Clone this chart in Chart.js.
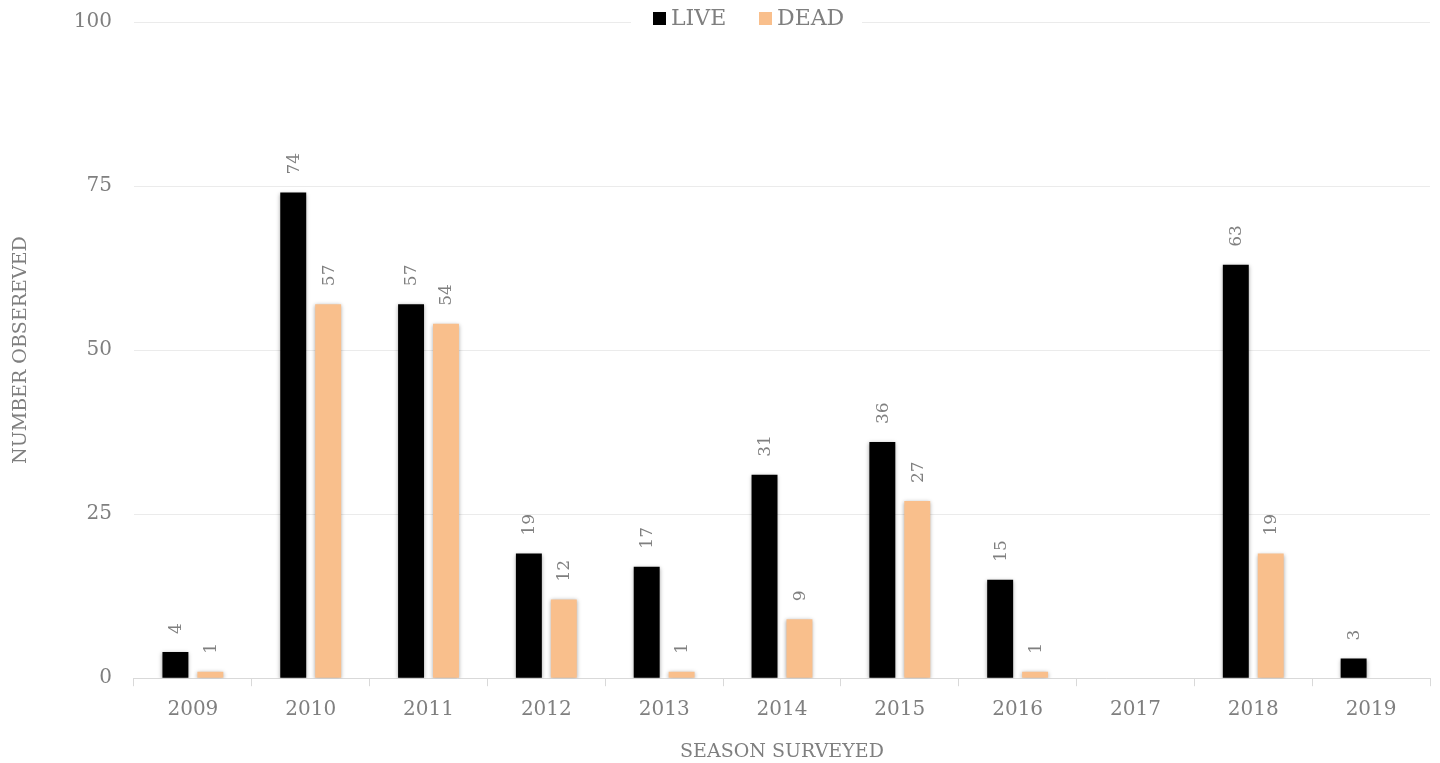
<!DOCTYPE html>
<html>
<head>
<meta charset="utf-8">
<script src="https://cdn.jsdelivr.net/npm/chart.js@4/dist/chart.umd.min.js"></script>
<style>
  html, body { margin: 0; padding: 0; background: #fff; }
  #wrap { width: 1440px; height: 763px; }
</style>
</head>
<body>
<div id="wrap"><canvas id="seasonChart"></canvas></div>
<script>
var seasons = ['2009', '2010', '2011', '2012', '2013', '2014', '2015', '2016', '2017', '2018', '2019'];
var liveCounts = [4, 74, 57, 19, 17, 31, 36, 15, null, 63, 3];
var deadCounts = [1, 57, 54, 12, 1, 9, 27, 1, null, 19, null];
var yTicks = [0, 25, 50, 75, 100];

var FONT = "'DejaVu Serif', 'Liberation Serif', serif";
var GREY = '#7f7f7f';
Chart.defaults.font.family = FONT;
Chart.defaults.color = GREY;

// bar shadow + rotated value labels + legend across the top gridline
var barExtras = {
    id: 'barExtras',
    beforeDatasetsDraw: function (chart) {
        var c = chart.ctx;
        c.save();
        c.shadowColor = 'rgba(0,0,0,0.35)';
        c.shadowBlur = 4;
        c.shadowOffsetY = 1;
    },
    afterDatasetsDraw: function (chart) {
        var c = chart.ctx;
        c.restore();
        c.save();
        c.font = '17px ' + FONT;
        c.fillStyle = GREY;
        c.textAlign = 'left';
        c.textBaseline = 'middle';
        chart.data.datasets.forEach(function (ds, i) {
            chart.getDatasetMeta(i).data.forEach(function (bar, j) {
                var v = ds.data[j];
                if (v == null) return;
                c.save();
                c.translate(bar.x + 1, bar.y - 18);
                c.rotate(-Math.PI / 2);
                c.fillText(String(v), 0, 0);
                c.restore();
            });
        });
        c.restore();
    },
    afterDraw: function (chart) {
        var c = chart.ctx;
        c.save();
        c.fillStyle = '#fff';
        c.fillRect(631, 8, 231, 26);
        c.font = '22px ' + FONT;
        c.textBaseline = 'middle';
        c.textAlign = 'left';
        var items = [
            { text: 'LIVE', color: '#000000', x: 653 },
            { text: 'DEAD', color: '#F9BF8C', x: 759 }
        ];
        items.forEach(function (it) {
            c.fillStyle = it.color;
            c.fillRect(it.x, 12, 13, 13);
            c.fillStyle = GREY;
            c.fillText(it.text, it.x + 18, 19);
        });
        c.restore();
    }
};

var ctx = document.getElementById('seasonChart');
var myChart = new Chart(ctx, {
    type: 'bar',
    plugins: [barExtras],
    data: {
        labels: seasons,
        datasets: [
            {
                label: 'LIVE',
                data: liveCounts,
                backgroundColor: '#000000',
            },
            {
                label: 'DEAD',
                data: deadCounts,
                backgroundColor: '#F9BF8C',
            },
        ]
    },
    options: {
        responsive: true,
        maintainAspectRatio: false,
        animation: false,
        layout: {
            padding: { top: 22, right: 10, bottom: 0, left: 0 }
        },
        plugins: {
            legend: { display: false },
            tooltip: { enabled: false },
        },
        datasets: {
            bar: {
                categoryPercentage: 0.593,
                barPercentage: 0.743,
            }
        },
        scales: {
            x: {
                grid: {
                    offset: true,
                    drawOnChartArea: false,
                    color: '#d9d9d9',
                    tickLength: 8,
                },
                border: { color: '#d9d9d9' },
                ticks: {
                    font: { size: 20 },
                    padding: 12,
                    maxRotation: 0,
                },
                title: {
                    display: true,
                    text: 'SEASON SURVEYED',
                    font: { size: 19 },
                    padding: { top: 6, bottom: 0 },
                },
            },
            y: {
                min: 0,
                max: 100,
                afterBuildTicks: function (axis) {
                    axis.ticks = yTicks.map(function (v) { return { value: v }; });
                },
                afterFit: function (axis) {
                    axis.paddingTop = 0;
                },
                grid: {
                    color: '#ebebeb',
                    drawTicks: false,
                },
                border: { display: false },
                ticks: {
                    font: { size: 20 },
                    padding: 22,
                },
                title: {
                    display: true,
                    text: 'NUMBER OBSEREVED',
                    font: { size: 19 },
                    padding: { top: 10, bottom: 19 },
                },
            },
        },
    },
});
</script>
</body>
</html>
